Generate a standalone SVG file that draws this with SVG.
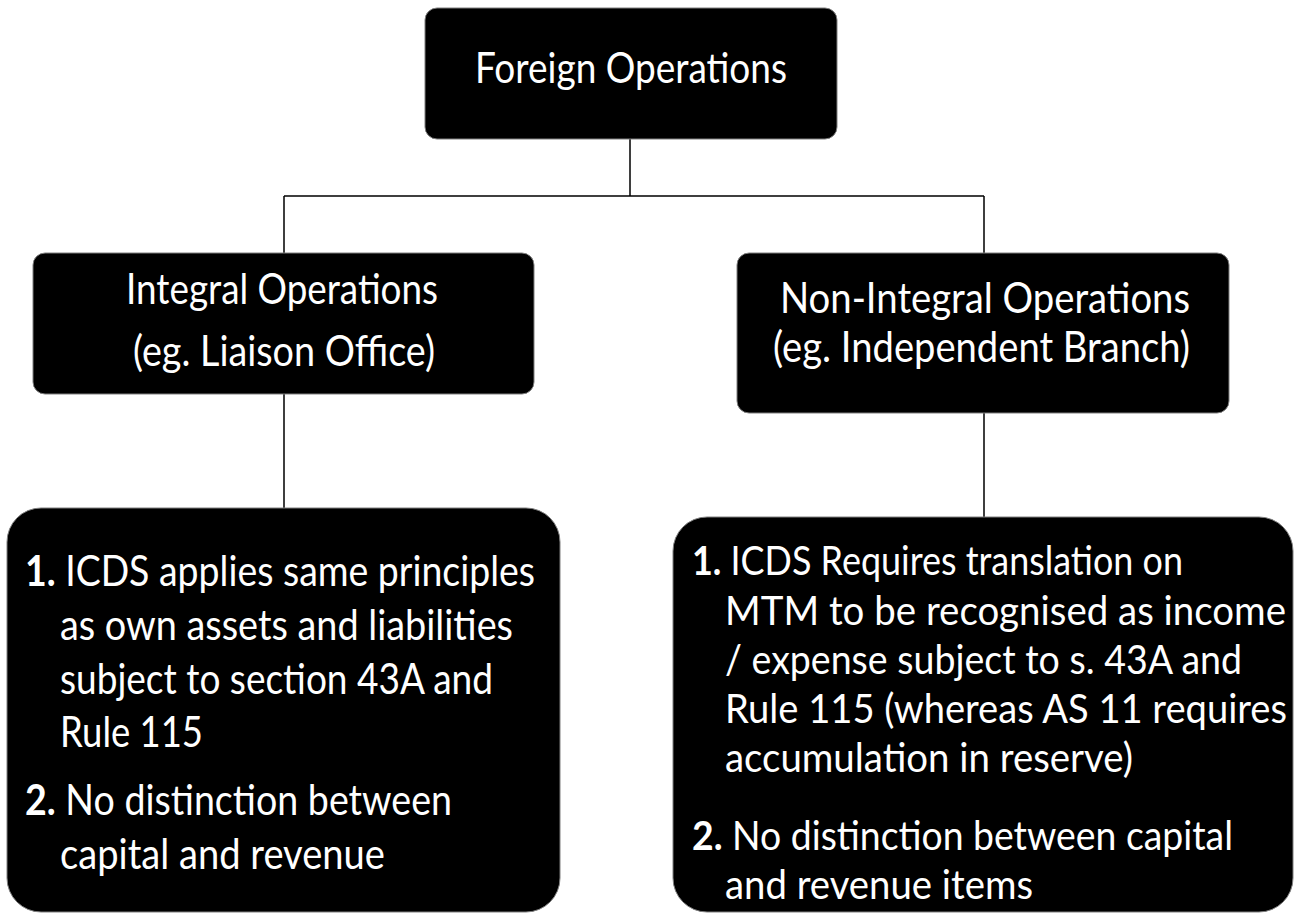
<svg xmlns="http://www.w3.org/2000/svg" width="1299" height="915" viewBox="0 0 1299 915">
<style>
.box{fill:#000;stroke:#7f7f7f;stroke-width:1}
.t{fill:#fff;font-family:Lato,"Open Sans","Liberation Sans",sans-serif;}
.h{font-size:36px}
.b{font-size:37px}
.n{font-weight:bold}
.c{stroke:#000;stroke-width:1.5;fill:none}
</style>
<rect width="1299" height="915" fill="#fff"/>
<g id="connectors">
<path class="c" d="M630 139V196M284 196H984M284 196V253M984 196V253M284 394V508M984 413V517"/>
</g>
<g id="foreign">
<rect class="box" x="425" y="8" width="412" height="131" rx="12"/>
<text class="t h" transform="translate(475 83) scale(1 1.2)" textLength="312" lengthAdjust="spacingAndGlyphs">Foreign Operations</text>
</g>
<g id="integral">
<rect class="box" x="33" y="253" width="501" height="141" rx="12"/>
<text class="t h" transform="translate(126 304) scale(1 1.2)" textLength="312" lengthAdjust="spacingAndGlyphs">Integral Operations</text>
<text class="t h" transform="translate(133 366) scale(1 1.2)" textLength="302" lengthAdjust="spacingAndGlyphs">(eg. Liaison Office)</text>
</g>
<g id="nonintegral">
<rect class="box" x="737" y="253" width="492" height="160" rx="12"/>
<text class="t h" transform="translate(780 313) scale(1 1.2)" textLength="410" lengthAdjust="spacingAndGlyphs">Non-Integral Operations</text>
<text class="t h" transform="translate(773 362) scale(1 1.2)" textLength="417" lengthAdjust="spacingAndGlyphs">(eg. Independent Branch)</text>
</g>
<g id="integral-details">
<rect class="box" x="7" y="508" width="553" height="404" rx="34"/>
<text class="t b" transform="translate(25 586) scale(1 1.15)" textLength="510" lengthAdjust="spacingAndGlyphs"><tspan class="n">1.</tspan> ICDS applies same principles</text>
<text class="t b" transform="translate(60 640) scale(1 1.15)" textLength="453" lengthAdjust="spacingAndGlyphs">as own assets and liabilities</text>
<text class="t b" transform="translate(60 694) scale(1 1.15)" textLength="433" lengthAdjust="spacingAndGlyphs">subject to section 43A and</text>
<text class="t b" transform="translate(60 747) scale(1 1.15)" textLength="143" lengthAdjust="spacingAndGlyphs">Rule 115</text>
<text class="t b" transform="translate(25 815) scale(1 1.15)" textLength="427" lengthAdjust="spacingAndGlyphs"><tspan class="n">2.</tspan> No distinction between</text>
<text class="t b" transform="translate(60 869) scale(1 1.15)" textLength="325" lengthAdjust="spacingAndGlyphs">capital and revenue</text>
</g>
<g id="nonintegral-details">
<rect class="box" x="673" y="517" width="620" height="395" rx="34"/>
<text class="t b" transform="translate(692 575) scale(1 1.1)" textLength="491" lengthAdjust="spacingAndGlyphs"><tspan class="n">1.</tspan> ICDS Requires translation on</text>
<text class="t b" transform="translate(725 625) scale(1 1.1)" textLength="561" lengthAdjust="spacingAndGlyphs">MTM to be recognised as income</text>
<text class="t b" transform="translate(725 674) scale(1 1.1)" textLength="517" lengthAdjust="spacingAndGlyphs">/ expense subject to s. 43A and</text>
<text class="t b" transform="translate(725 723) scale(1 1.1)" textLength="562" lengthAdjust="spacingAndGlyphs">Rule 115 (whereas AS 11 requires</text>
<text class="t b" transform="translate(725 772) scale(1 1.1)" textLength="408" lengthAdjust="spacingAndGlyphs">accumulation in reserve)</text>
<text class="t b" transform="translate(692 850) scale(1 1.1)" textLength="541" lengthAdjust="spacingAndGlyphs"><tspan class="n">2.</tspan> No distinction between capital</text>
<text class="t b" transform="translate(725 899) scale(1 1.1)" textLength="308" lengthAdjust="spacingAndGlyphs">and revenue items</text>
</g>
</svg>
